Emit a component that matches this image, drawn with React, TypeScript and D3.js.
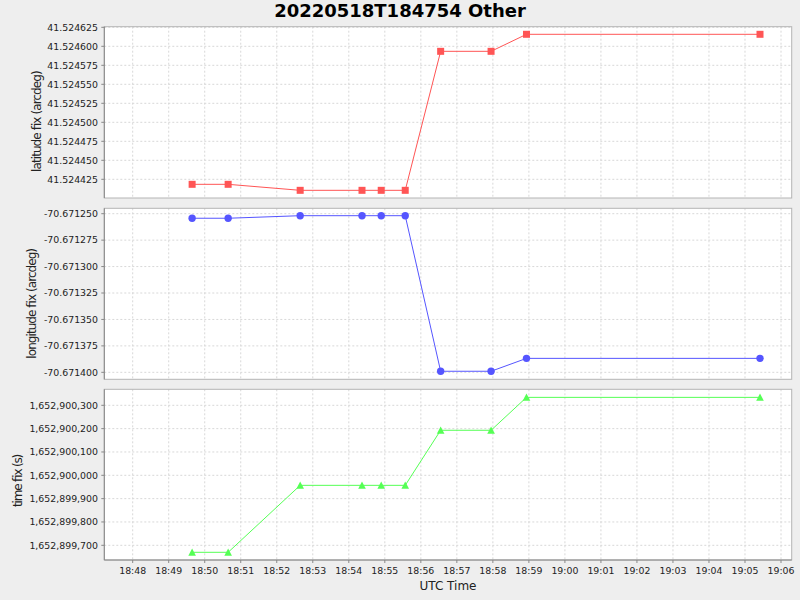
import React from "react";
import * as d3 from "d3";

const title = "20220518T184754 Other";
const times = [
  "2022-05-18T18:49:39Z",
  "2022-05-18T18:50:39Z",
  "2022-05-18T18:52:39Z",
  "2022-05-18T18:54:22Z",
  "2022-05-18T18:54:54Z",
  "2022-05-18T18:55:34Z",
  "2022-05-18T18:56:33Z",
  "2022-05-18T18:57:57Z",
  "2022-05-18T18:58:56Z",
  "2022-05-18T19:05:25Z",
];
const latitude = [
  41.5244184, 41.5244184, 41.5244105, 41.5244105, 41.5244105, 41.5244105,
  41.5245934, 41.5245934, 41.5246158, 41.5246158,
];
const longitude = [
  -70.6712543, -70.6712543, -70.6712519, -70.6712519, -70.6712519, -70.6712519,
  -70.671399, -70.671399, -70.6713868, -70.6713868,
];
const timeFix = [
  1652899670, 1652899670, 1652899957, 1652899957, 1652899957, 1652899957,
  1652900193, 1652900193, 1652900334, 1652900334,
];
const latTicks = [
  41.524425, 41.52445, 41.524475, 41.5245, 41.524525, 41.52455, 41.524575,
  41.5246, 41.524625,
];
const lonTicks = [
  -70.6714, -70.671375, -70.67135, -70.671325, -70.6713, -70.671275, -70.67125,
];
const timeFixTicks = [
  1652899700, 1652899800, 1652899900, 1652900000, 1652900100, 1652900200,
  1652900300,
];
const xDomain = ["2022-05-18T18:47:12.7Z", "2022-05-18T19:06:17.8Z"];
const latDomain = [41.5244004, 41.5246258];
const lonDomain = [-70.6714066, -70.6712449];
const timeFixDomain = [1652899637, 1652900368.6];

const FONT = "DejaVu Sans";
const LEFT = 104.3;
const RIGHT = 791.7;

type Panel = {
  label: string;
  values: number[];
  ticks: number[];
  domain: number[];
  top: number;
  bottom: number;
  color: string;
  marker: "square" | "circle" | "triangle";
  fmt: (v: number) => string;
  labelX: number;
  labelLen: number;
  labelNatural: number;
};

const panels: Panel[] = [
  {
    label: "latitude fix (arcdeg)",
    values: latitude,
    ticks: latTicks,
    domain: latDomain,
    top: 26.7,
    bottom: 198,
    color: "#FF5555",
    marker: "square",
    fmt: (v) => v.toFixed(6),
    labelX: 40.5,
    labelLen: 101.6,
    labelNatural: 119.2,
  },
  {
    label: "longitude fix (arcdeg)",
    values: longitude,
    ticks: lonTicks,
    domain: lonDomain,
    top: 208.3,
    bottom: 379.3,
    color: "#5555FF",
    marker: "circle",
    fmt: (v) => v.toFixed(6),
    labelX: 35.5,
    labelLen: 110.7,
    labelNatural: 129.7,
  },
  {
    label: "time fix (s)",
    values: timeFix,
    ticks: timeFixTicks,
    domain: timeFixDomain,
    top: 389.3,
    bottom: 560,
    color: "#55FF55",
    marker: "triangle",
    fmt: (v) => d3.format(",")(v),
    labelX: 22,
    labelLen: 53.3,
    labelNatural: 64.8,
  },
];

export default function App() {
  const dates = times.map((t) => new Date(t));
  const x = d3
    .scaleUtc()
    .domain(xDomain.map((t) => new Date(t)))
    .range([LEFT, RIGHT]);
  const xTicks = x.ticks(d3.utcMinute.every(1) as any);
  const xFmt = d3.utcFormat("%H:%M");
  const lastBottom = panels[panels.length - 1].bottom;

  return (
    <div style={{ position: "fixed", left: 0, top: 0 }}>
      <svg width={800} height={600} style={{ display: "block" }}>
        <rect x={0} y={0} width={800} height={600} fill="#EEEEEE" />
        <text
          x={400}
          y={17.3}
          textAnchor="middle"
          fontFamily={FONT}
          fontWeight="bold"
          fontSize={18}
          fill="#000"
        >
          {title}
        </text>
        {panels.map((p, pi) => {
          const y = d3.scaleLinear().domain(p.domain).range([p.bottom, p.top]);
          const line = d3
            .line<number>()
            .x((_, i) => x(dates[i]))
            .y((v) => y(v));
          const cy = (p.top + p.bottom) / 2;
          const labelStart = cy + p.labelNatural / 2;
          return (
            <g key={pi}>
              <rect
                x={LEFT}
                y={p.top}
                width={RIGHT - LEFT}
                height={p.bottom - p.top}
                fill="#FFFFFF"
              />
              {xTicks.map((t, i) => (
                <line
                  key={"xg" + i}
                  x1={x(t)}
                  x2={x(t)}
                  y1={p.top}
                  y2={p.bottom}
                  stroke="#D8D8D8"
                  strokeWidth={1}
                  strokeDasharray="2,2"
                />
              ))}
              {p.ticks.map((t, i) => (
                <line
                  key={"yg" + i}
                  x1={LEFT}
                  x2={RIGHT}
                  y1={y(t)}
                  y2={y(t)}
                  stroke="#D8D8D8"
                  strokeWidth={1}
                  strokeDasharray="2,2"
                />
              ))}
              <rect
                x={LEFT}
                y={p.top}
                width={RIGHT - LEFT}
                height={p.bottom - p.top}
                fill="none"
                stroke="#B4B4B4"
                strokeWidth={1}
              />
              <line
                x1={LEFT}
                x2={LEFT}
                y1={p.top}
                y2={p.bottom}
                stroke="#888888"
                strokeWidth={1}
              />
              {p.ticks.map((t, i) => (
                <g key={"yt" + i}>
                  <line
                    x1={LEFT - 3}
                    x2={LEFT}
                    y1={y(t)}
                    y2={y(t)}
                    stroke="#888888"
                    strokeWidth={1}
                  />
                  <text
                    x={98}
                    y={y(t)}
                    dy="0.35em"
                    textAnchor="end"
                    fontFamily={FONT}
                    fontSize={9.4}
                    fill="#222"
                  >
                    {p.fmt(t)}
                  </text>
                </g>
              ))}
              <text
                transform={`translate(${p.labelX},${labelStart}) rotate(-90)`}
                x={0}
                y={0}
                textAnchor="start"
                fontFamily={FONT}
                fontSize={12}
                fill="#222"
                textLength={p.labelLen}
                lengthAdjust="spacing"
              >
                {p.label}
              </text>
              <path
                d={line(p.values) || ""}
                fill="none"
                stroke={p.color}
                strokeWidth={1}
              />
              {p.values.map((v, i) => {
                const px = x(dates[i]);
                const py = y(v);
                if (p.marker === "square")
                  return (
                    <rect
                      key={"m" + i}
                      x={px - 3.5}
                      y={py - 3.5}
                      width={7}
                      height={7}
                      fill={p.color}
                    />
                  );
                if (p.marker === "circle")
                  return (
                    <circle key={"m" + i} cx={px} cy={py} r={3.7} fill={p.color} />
                  );
                return (
                  <path
                    key={"m" + i}
                    d={`M${px},${py - 3.8}L${px + 3.8},${py + 3.5}L${px - 3.8},${py + 3.5}Z`}
                    fill={p.color}
                  />
                );
              })}
            </g>
          );
        })}
        <line
          x1={LEFT}
          x2={RIGHT}
          y1={lastBottom}
          y2={lastBottom}
          stroke="#888888"
          strokeWidth={1}
        />
        {xTicks.map((t, i) => (
          <g key={"xt" + i}>
            <line
              x1={x(t)}
              x2={x(t)}
              y1={lastBottom}
              y2={lastBottom + 3}
              stroke="#888888"
              strokeWidth={1}
            />
            <text
              x={x(t)}
              y={574.3}
              textAnchor="middle"
              fontFamily={FONT}
              fontSize={9.4}
              fill="#222"
            >
              {xFmt(t)}
            </text>
          </g>
        ))}
        <text
          x={(LEFT + RIGHT) / 2}
          y={589.5}
          textAnchor="middle"
          fontFamily={FONT}
          fontSize={12}
          fill="#222"
        >
          UTC Time
        </text>
      </svg>
    </div>
  );
}
